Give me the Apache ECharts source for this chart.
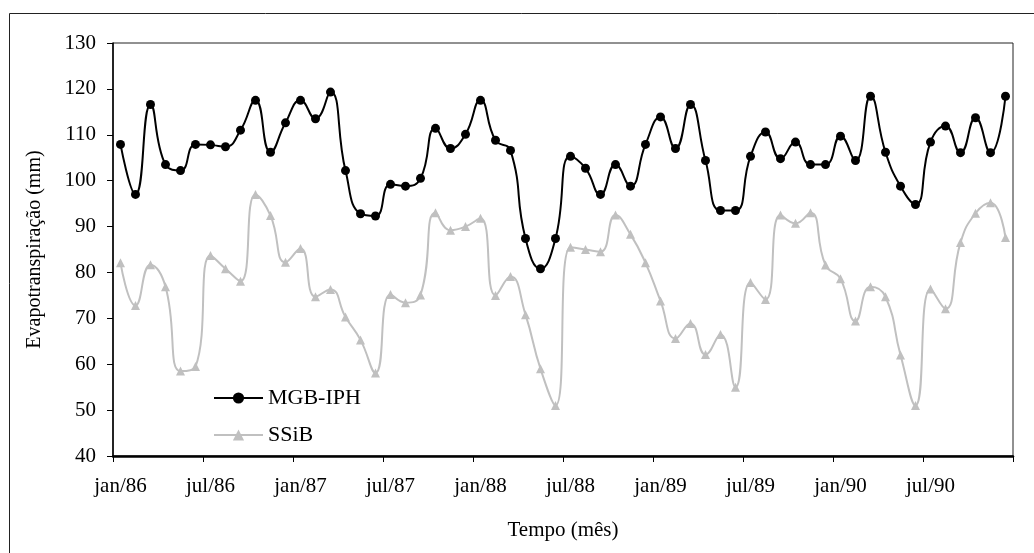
<!DOCTYPE html>
<html>
<head>
<meta charset="utf-8">
<style>
  html, body { margin: 0; padding: 0; background: #fff; }
  #chart { width: 1034px; height: 553px; }
</style>
<script src="https://cdn.jsdelivr.net/npm/echarts@6/dist/echarts.min.js"></script>
</head>
<body>
<div id="chart"></div>
<script>
// Monthly evapotranspiration (mm), jan/1986 to dec/1990
const monthNames = ['jan', 'fev', 'mar', 'abr', 'mai', 'jun', 'jul', 'ago', 'set', 'out', 'nov', 'dez'];
const years = ['86', '87', '88', '89', '90'];
const months = [];
years.forEach(y => monthNames.forEach(m => months.push(m + '/' + y)));

const mgbIph = [
  107.9, 97.0, 116.6, 103.5, 102.2, 107.9, 107.8, 107.4, 111.0, 117.5, 106.2, 112.6,
  117.5, 113.5, 119.3, 102.2, 92.8, 92.3, 99.2, 98.8, 100.5, 111.4, 107.0, 110.1,
  117.5, 108.8, 106.6, 87.4, 80.8, 87.4, 105.3, 102.7, 97.0, 103.5, 98.8, 107.9,
  113.9, 107.0, 116.6, 104.4, 93.5, 93.5, 105.3, 110.6, 104.8, 108.4, 103.5, 103.5,
  109.7, 104.4, 118.4, 106.2, 98.8, 94.8, 108.4, 111.9, 106.1, 113.7, 106.1, 118.4
];

const ssib = [
  82.1, 72.8, 81.7, 76.9, 58.5, 59.5, 83.7, 80.8, 78.1, 97.0, 92.4, 82.2,
  85.2, 74.7, 76.3, 70.3, 65.3, 58.1, 75.2, 73.4, 75.1, 93.0, 89.2, 90.0,
  91.8, 75.0, 79.1, 70.8, 59.0, 51.0, 85.5, 85.0, 84.5, 92.5, 88.3, 82.1,
  73.8, 65.6, 68.9, 62.1, 66.5, 55.0, 77.8, 74.1, 92.5, 90.7, 93.0, 81.6,
  78.6, 69.4, 76.9, 74.7, 62.0, 51.0, 76.4, 72.1, 86.5, 92.9, 95.2, 87.6
];

const yTicks = { min: 40, max: 130, step: 10 };

const serif = '"Liberation Serif", "DejaVu Serif", serif';

const chart = echarts.init(document.getElementById('chart'), null, { renderer: 'canvas' });

chart.setOption({
  backgroundColor: '#fff',
  animation: false,
  textStyle: { fontFamily: serif, color: '#000' },
  grid: {
    left: 113, top: 43, width: 900, height: 413,
    show: true, borderColor: '#222', borderWidth: 1, backgroundColor: 'transparent'
  },
  legend: {
    orient: 'vertical',
    left: 208, top: 382,
    itemWidth: 49, itemHeight: 14, itemGap: 15,
    textStyle: { fontFamily: serif, fontSize: 22, color: '#000' },
    data: ['MGB-IPH', 'SSiB']
  },
  xAxis: {
    type: 'category',
    data: months,
    boundaryGap: true,
    name: 'Tempo (mês)',
    nameLocation: 'middle',
    nameGap: 64,
    nameTextStyle: { fontFamily: serif, fontSize: 21, color: '#000' },
    axisLine: { lineStyle: { color: '#000', width: 2.5 } },
    axisTick: { show: true, interval: 5, length: 6, lineStyle: { color: '#000', width: 1 } },
    axisLabel: {
      interval: 5, margin: 20,
      fontFamily: serif, fontSize: 21, color: '#000',
      formatter: v => (v.startsWith('jan') || v.startsWith('jul')) ? v : ''
    },
    splitLine: { show: false }
  },
  yAxis: {
    type: 'value',
    min: yTicks.min, max: yTicks.max, interval: yTicks.step,
    name: 'Evapotranspiração (mm)',
    nameLocation: 'middle',
    nameGap: 68,
    nameRotate: 90,
    nameTextStyle: { fontFamily: serif, fontSize: 20, color: '#000' },
    axisLine: { show: true, lineStyle: { color: '#000', width: 1.5 } },
    axisTick: { show: true, length: 6, lineStyle: { color: '#000', width: 1 } },
    axisLabel: { margin: 17, fontFamily: serif, fontSize: 21, color: '#000' },
    splitLine: { show: false }
  },
  series: [
    {
      name: 'MGB-IPH',
      type: 'line',
      data: mgbIph,
      smooth: 0.5,
      symbol: 'circle',
      symbolSize: 9,
      lineStyle: { color: '#000', width: 2 },
      itemStyle: { color: '#000' },
      z: 3
    },
    {
      name: 'SSiB',
      type: 'line',
      data: ssib,
      smooth: 0.5,
      symbol: 'triangle',
      symbolSize: 9,
      lineStyle: { color: '#c0c0c0', width: 2 },
      itemStyle: { color: '#c0c0c0' },
      z: 2
    }
  ],
  graphic: [
    // outer chart frame (left and top edges)
    { type: 'line', shape: { x1: 9.5, y1: 13.5, x2: 1034, y2: 13.5 }, style: { stroke: '#222', lineWidth: 1 } },
    { type: 'line', shape: { x1: 9.5, y1: 13.5, x2: 9.5, y2: 553 }, style: { stroke: '#222', lineWidth: 1 } }
  ]
});
</script>
</body>
</html>
